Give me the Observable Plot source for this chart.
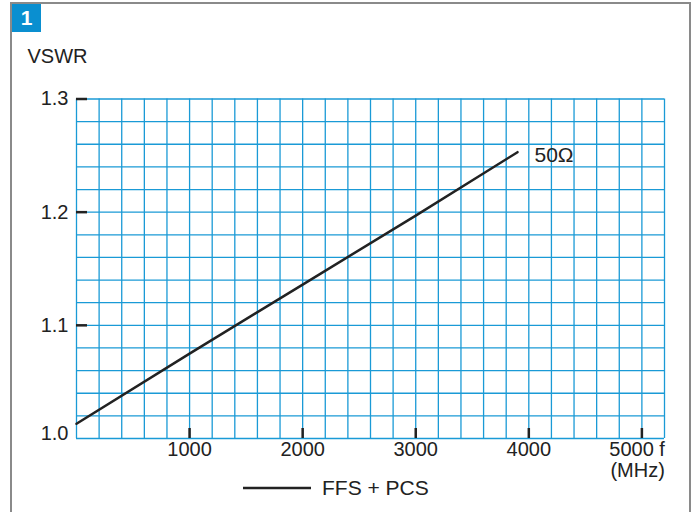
<!DOCTYPE html>
<html><head><meta charset="utf-8">
<script src="https://cdn.jsdelivr.net/npm/d3@7"></script>
<script src="https://cdn.jsdelivr.net/npm/@observablehq/plot@0.6"></script>
<style>
body{margin:0;background:#fff;font-family:"Liberation Sans",Arial,sans-serif;}
#wrap{position:relative;width:696px;height:512px;overflow:hidden;}
#border{position:absolute;left:10px;top:2px;width:677px;height:530px;border:2px solid #8a8a8a;}
#badge{position:absolute;left:12px;top:4px;width:29px;height:28px;background:#0a8fd0;color:#fff;font-weight:bold;font-size:21px;line-height:28px;text-align:center;}
#chart{position:absolute;left:0;top:0;}
#legend{position:absolute;left:243px;top:476px;display:flex;align-items:center;font-size:21px;color:#222;}
</style></head>
<body><div id="wrap"><div id="border"></div><div id="badge">1</div><div id="chart"></div>
<div id="legend"><svg width="79" height="22"><line x1="0" x2="68" y1="11" y2="11" stroke="#222" stroke-width="2.5"/></svg><span id="legtext"></span></div></div>
<script>
const freq = [0, 1000, 2000, 3000, 3900];
const vswr = [1.013, 1.075, 1.136, 1.197, 1.253];
const seriesName = "FFS + PCS";
const curveLabel = "50\u03A9";
const xTicks = [1000, 2000, 3000, 4000];
const xLastTick = 5000;
const yTicks = [1.0, 1.1, 1.2, 1.3];
const xGrid = d3.range(0, 5201, 200);
const yGrid = d3.range(0, 16).map(i => 1 + i * 0.02);

document.getElementById("legtext").textContent = seriesName;
const data = freq.map((f, i) => ({f, v: vswr[i]}));

const W = 696, H = 512, mL = 76, mR = 32, mT = 98.5, mB = 74;
const fw = W - mL - mR, fh = H - mT - mB;
const grid = "#1a9ad6";

const chart = Plot.plot({
  width: W, height: H,
  marginLeft: mL, marginRight: mR, marginTop: mT, marginBottom: mB,
  style: {fontFamily: "'Liberation Sans', Arial, sans-serif", fontSize: "20px", color: "#222", background: "transparent"},
  x: {domain: [0, 5200]},
  y: {domain: [1.0, 1.3]},
  marks: [
    Plot.ruleX(xGrid, {stroke: grid, strokeWidth: 1.3}),
    Plot.ruleY(yGrid, {stroke: grid, strokeWidth: 1.3}),
    Plot.tickX(xTicks.concat([xLastTick]), {x: d => d, insetTop: fh - 10, stroke: "#222", strokeWidth: 2.5}),
    Plot.tickY(yTicks.slice(1), {y: d => d, insetRight: fw - 11, stroke: "#222", strokeWidth: 2.5}),
    Plot.axisX(xTicks, {tickSize: 0, tickPadding: 3, fontSize: 20, fill: "#222", tickFormat: d => String(d), label: null}),
    Plot.text([xLastTick], {x: d => d, frameAnchor: "bottom", text: d => d + " f\n(MHz)", textAnchor: "end", lineAnchor: "top", dx: 23, dy: 3, lineHeight: 1.05, fontSize: 20, fill: "#222"}),
    Plot.axisY(yTicks.slice(1), {tickSize: 0, tickPadding: 8, fontSize: 20, fill: "#222", tickFormat: d => d.toFixed(1), label: null}),
    Plot.axisY(yTicks.slice(0, 1), {tickSize: 0, tickPadding: 8, dy: -5, fontSize: 20, fill: "#222", tickFormat: d => d.toFixed(1), label: null}),
    Plot.text(["VSWR"], {frameAnchor: "top-left", text: d => d, textAnchor: "start", dx: -49, dy: -50, fontSize: 20, fill: "#222"}),
    Plot.line(data, {x: "f", y: "v", stroke: "#222", strokeWidth: 2.5}),
    Plot.text(data.slice(-1), {x: "f", y: "v", text: () => curveLabel, textAnchor: "start", dx: 17, dy: 3, fontSize: 21, fill: "#222"})
  ]
});
document.getElementById("chart").append(chart);
</script></body></html>
